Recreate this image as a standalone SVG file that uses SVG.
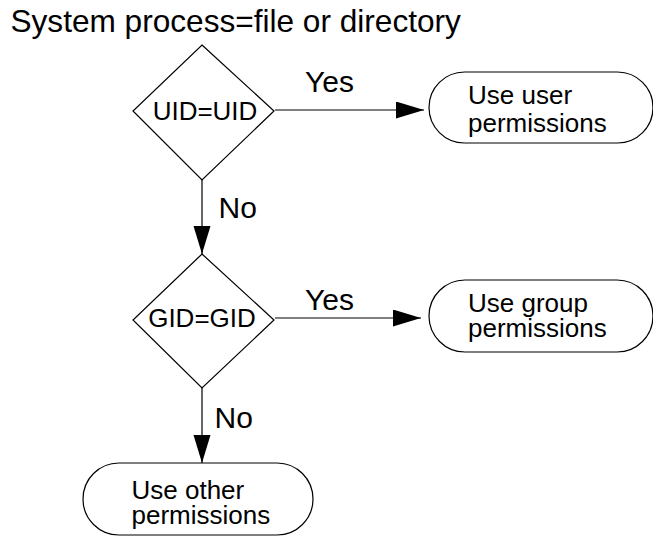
<svg xmlns="http://www.w3.org/2000/svg" width="653" height="537" viewBox="0 0 653 537">
<defs>
<marker id="arr" markerUnits="userSpaceOnUse" markerWidth="30" markerHeight="18" refX="28" refY="8.5" orient="auto">
<path d="M0,0 L28,8.5 L0,17 z" fill="#000"/>
</marker>
<style>
.t{font-family:"Liberation Sans",Arial,sans-serif;fill:#000}
.shape{fill:#fff;stroke:#000;stroke-width:1.2}
.conn{stroke:#000;stroke-width:1.2;fill:none}
</style>
</defs>
<rect width="653" height="537" fill="#fff"/>
<text class="t" x="10.5" y="32" font-size="31.6">System process=file or directory</text>
<g id="connectors">
<line class="conn" x1="202" y1="180" x2="202" y2="254" marker-end="url(#arr)"/>
<line class="conn" x1="275" y1="110" x2="424" y2="110" marker-end="url(#arr)"/>
<line class="conn" x1="275" y1="318" x2="421" y2="318" marker-end="url(#arr)"/>
<line class="conn" x1="202" y1="388" x2="202" y2="463" marker-end="url(#arr)"/>
<text class="t" x="218.5" y="218" font-size="30">No</text>
<text class="t" x="214.5" y="428" font-size="30">No</text>
<text class="t" x="305" y="92" font-size="30">Yes</text>
<text class="t" x="305" y="310" font-size="30">Yes</text>
</g>
<g id="uid">
<polygon class="shape" points="202,45 274,111 202,180 133,111"/>
<text class="t" x="205" y="120" font-size="26" text-anchor="middle">UID=UID</text>
</g>
<g id="gid">
<polygon class="shape" points="202,254 274,320 202,388 133,320"/>
<text class="t" x="202" y="327" font-size="26" text-anchor="middle">GID=GID</text>
</g>
<g id="user">
<rect class="shape" x="429" y="72" width="224" height="71" rx="35.5"/>
<text class="t" x="468" y="104" font-size="26">Use user</text>
<text class="t" x="468" y="131.5" font-size="26">permissions</text>
</g>
<g id="group">
<rect class="shape" x="429" y="280" width="224" height="72" rx="36"/>
<text class="t" x="468" y="312" font-size="26">Use group</text>
<text class="t" x="468" y="337" font-size="26">permissions</text>
</g>
<g id="other">
<rect class="shape" x="83" y="463" width="230" height="72" rx="36"/>
<text class="t" x="131.5" y="499" font-size="26">Use other</text>
<text class="t" x="131.5" y="523.5" font-size="26">permissions</text>
</g>
</svg>
